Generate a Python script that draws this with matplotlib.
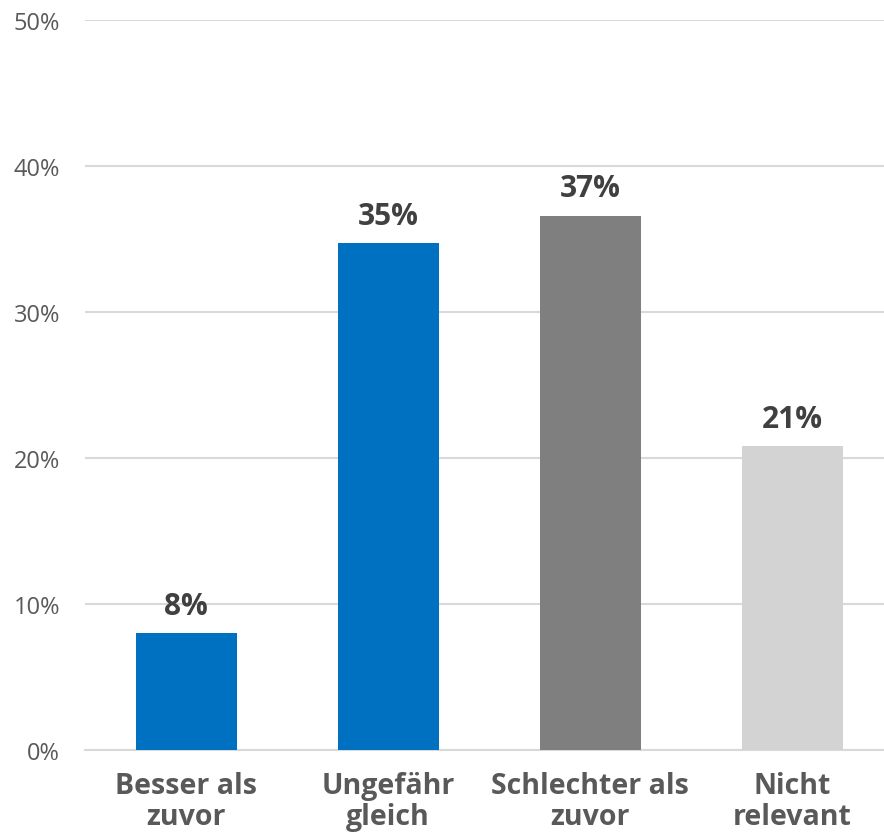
import matplotlib
matplotlib.use("Agg")
import matplotlib.pyplot as plt
from matplotlib.ticker import FuncFormatter

categories = ["Besser als\nzuvor", "Ungefähr\ngleich", "Schlechter als\nzuvor", "Nicht\nrelevant"]
values = [8.0, 34.7, 36.6, 20.8]
labels = ["8%", "35%", "37%", "21%"]
colors = ["#0070C0", "#0070C0", "#7F7F7F", "#D3D3D3"]

plt.rcParams['font.family'] = ['Open Sans', 'DejaVu Sans']

fig = plt.figure(figsize=(8.84, 8.37), dpi=100)
ax = fig.add_axes([85/884, 86/837, 808/884, 730/837])

x = list(range(len(categories)))
bars = ax.bar(x, values, width=0.5, color=colors, zorder=3)
ax.set_xlim(-0.5, 3.5)
ax.set_ylim(0, 50)
ax.set_yticks([0, 10, 20, 30, 40, 50])
ax.yaxis.set_major_formatter(FuncFormatter(lambda v, p: f"{int(v)}%"))
ax.grid(axis='y', color='#D9D9D9', linewidth=1.5, zorder=0)
for s in ['top', 'right', 'left']:
    ax.spines[s].set_visible(False)
ax.spines['bottom'].set_color('#D9D9D9')
ax.spines['bottom'].set_linewidth(1.5)
ax.tick_params(axis='y', length=0, labelsize=17, labelcolor='#595959', pad=18)
ax.tick_params(axis='x', length=0, pad=15)
ax.set_xticks(x)
ax.set_xticklabels(categories, fontsize=20.5, fontweight='bold', color='#595959', linespacing=1.1)

for xi, v, lab in zip(x, values, labels):
    ax.annotate(lab, (xi, v), xytext=(0, 9), textcoords='offset points',
                ha='center', va='bottom', fontsize=21.5, fontweight='bold', color='#404040')

fig.savefig("out.png", dpi=100)
